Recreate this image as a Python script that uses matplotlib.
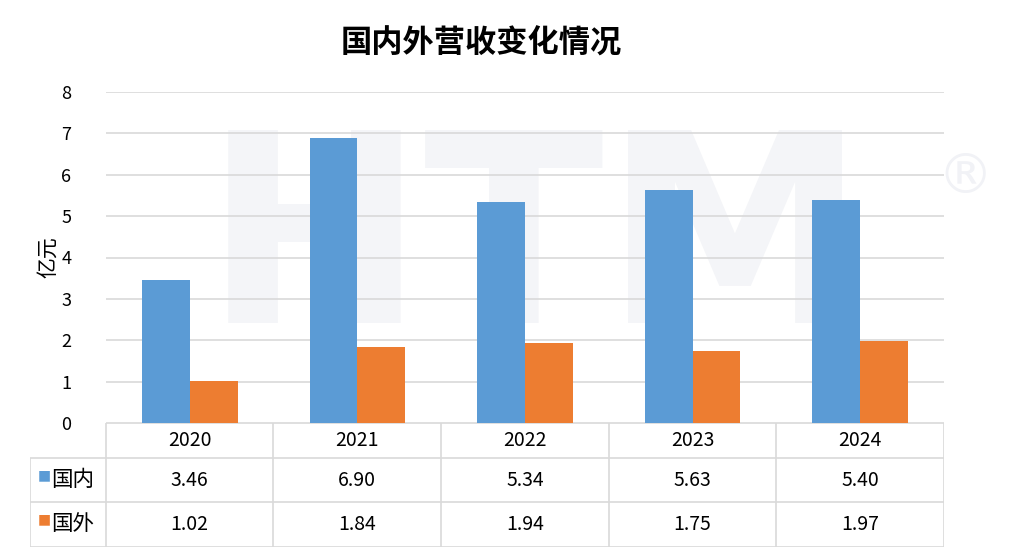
import matplotlib.pyplot as plt
import numpy as np

plt.rcParams['font.family'] = ['Noto Sans CJK SC', 'DejaVu Sans']

years = ["2020", "2021", "2022", "2023", "2024"]
domestic = [3.46, 6.90, 5.34, 5.63, 5.40]
overseas = [1.02, 1.84, 1.94, 1.75, 1.97]
series_names = ["国内", "国外"]
COLORS = ["#5B9BD5", "#ED7D31"]
GRID = "#D9D9D9"

W, H = 1030, 556
fig = plt.figure(figsize=(W / 100, H / 100), dpi=100)

# faint watermark behind everything
bg = fig.add_axes([0, 0, 1, 1], zorder=0)
bg.set_axis_off()
bg.text(0.52, 0.55, "HTM", ha="center", va="center", fontsize=190,
        fontweight="bold", color="#F4F5F8", family="DejaVu Sans")
bg.text(0.937, 0.68, "®", ha="center", va="center", fontsize=40,
        color="#F1F2F6", family="DejaVu Sans")

x = np.arange(len(years))
bw = 0.285
left_px, right_px, top_px, base_px = 106, 944, 92, 423
ax = fig.add_axes([left_px / W, 1 - base_px / H,
                   (right_px - left_px) / W, (base_px - top_px) / H], zorder=1)
ax.patch.set_alpha(0)
ax.bar(x - bw / 2, domestic, bw, color=COLORS[0], zorder=2)
ax.bar(x + bw / 2, overseas, bw, color=COLORS[1], zorder=2)
ax.set_xlim(-0.5, len(years) - 0.5)
ax.set_ylim(0, 8)
ax.set_yticks(range(0, 9))
ax.yaxis.grid(True, color=GRID, linewidth=1.2)
ax.set_axisbelow(True)
ax.set_xticks([])
for s in ax.spines.values():
    s.set_visible(False)
ax.tick_params(axis="y", length=0, pad=25, labelsize=13)
ax.set_ylabel("亿元", fontsize=15)
ax.yaxis.set_label_coords(-0.056, 0.5)

fig.text(0.467, 0.922, "国内外营收变化情况", ha="center", va="center",
         fontsize=22.5, fontweight="bold")

# data table under the plot, x in category units
label_w = (106 - 30) / 168
tab_top, tab_bot = 423, 547
tax = fig.add_axes([30 / W, 1 - tab_bot / H, (944 - 30) / W, (tab_bot - tab_top) / H],
                   zorder=1)
tax.patch.set_alpha(0)
tax.set_axis_off()
n = len(years)
tax.set_xlim(-0.5 - label_w, n - 0.5)
tax.set_ylim(tab_bot, tab_top)
rows = [423, 458, 502, 547]
lc = dict(color=GRID, linewidth=1.2, solid_capstyle="butt")
tax.plot([-0.5, n - 0.5], [rows[0]] * 2, **lc)
for r in rows[1:]:
    tax.plot([-0.5 - label_w, n - 0.5], [r, r], **lc)
for i in range(n + 1):
    tax.plot([i - 0.5] * 2, [rows[0], rows[-1]], **lc)
tax.plot([-0.5 - label_w] * 2, [rows[1], rows[-1]], **lc)

for i, yr in enumerate(years):
    tax.text(i, (rows[0] + rows[1]) / 2, yr, ha="center", va="center", fontsize=14)
for k, vals in enumerate([domestic, overseas]):
    yc = (rows[k + 1] + rows[k + 2]) / 2
    for i, v in enumerate(vals):
        tax.text(i, yc, f"{v:.2f}", ha="center", va="center", fontsize=14)
    tax.text(-0.5 - label_w + 0.045, yc - 5, "■", color=COLORS[k], ha="left",
             va="center", fontsize=10, family="DejaVu Sans")
    tax.text(-0.5 - label_w + 0.125, yc, series_names[k], ha="left",
             va="center", fontsize=15.5)

fig.savefig("out.png", dpi=100)
